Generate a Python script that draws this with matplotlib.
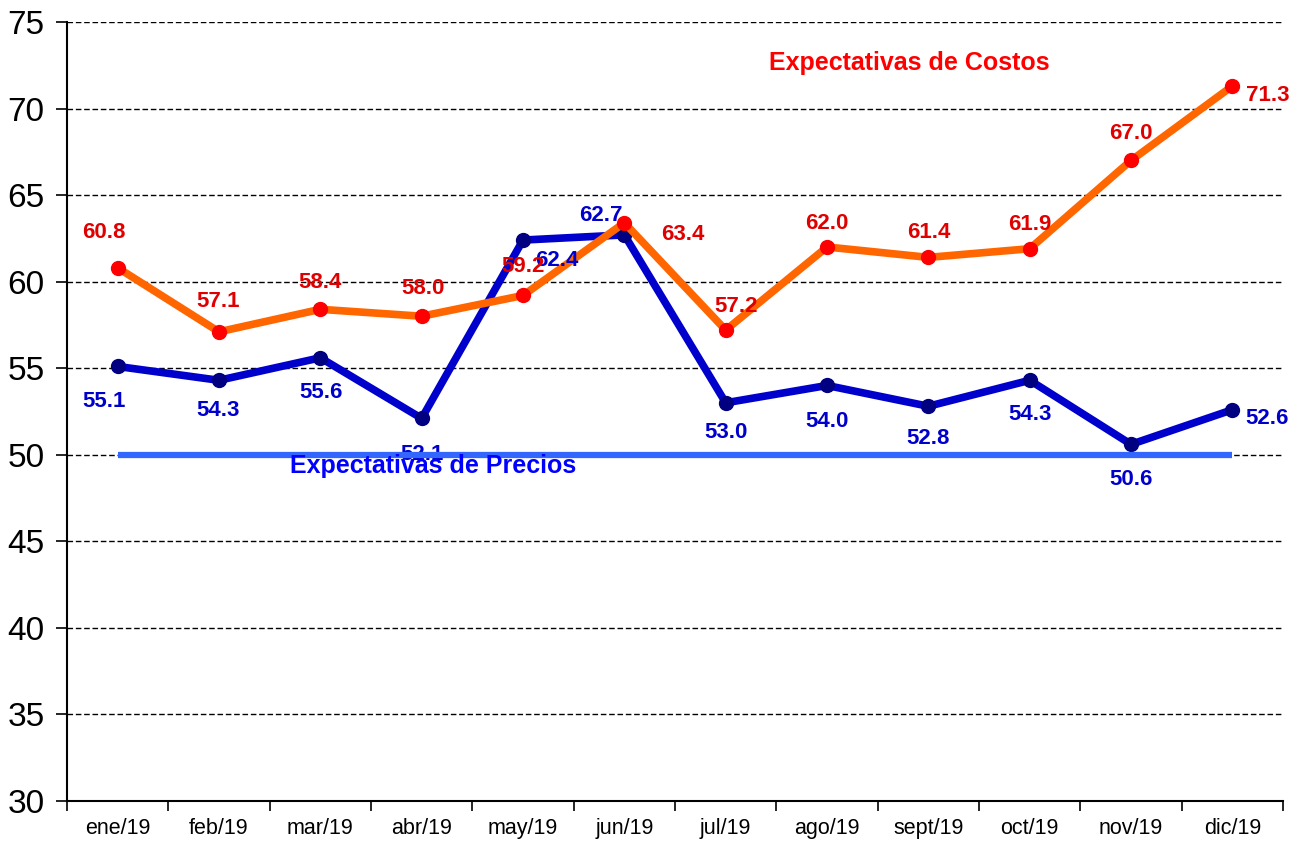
import numpy as np
import matplotlib.pyplot as plt

plt.rcParams['font.family'] = ['Liberation Sans', 'DejaVu Sans']

meses = ['ene/19', 'feb/19', 'mar/19', 'abr/19', 'may/19', 'jun/19',
         'jul/19', 'ago/19', 'sept/19', 'oct/19', 'nov/19', 'dic/19']
costos = [60.8, 57.1, 58.4, 58.0, 59.2, 63.4, 57.2, 62.0, 61.4, 61.9, 67.0, 71.3]
precios = [55.1, 54.3, 55.6, 52.1, 62.4, 62.7, 53.0, 54.0, 52.8, 54.3, 50.6, 52.6]
referencia = 50

# label offsets in pixels (dx, dy) from each point
off_costos = [(-14, 35), (-1, 30), (0, 27), (1, 28), (0, 29), (58, -12),
              (10, 24), (0, 23), (0, 25), (0, 24), (0, 27), (35, -10)]
off_precios = [(-14, -35), (-1, -30), (1, -35), (0, -36), (34, -20), (-23, 19),
               (0, -30), (0, -36), (0, -32), (0, -34), (0, -35), (35, -9)]

x = np.arange(len(meses))

fig = plt.figure(figsize=(13, 8.44), dpi=100)
ax = fig.add_axes([0.0515, 0.051, 0.9355, 0.923])

# linea de referencia en 50
ax.plot([x[0], x[-1]], [referencia, referencia], color='#3366FF', lw=4.5, zorder=6,
        solid_capstyle='butt')

ax.plot(x, precios, color='#0000CC', lw=5.5, marker='o', ms=10,
        mfc='#000080', mec='#000080', zorder=3)
ax.plot(x, costos, color='#FF6600', lw=5.5, marker='o', ms=10,
        mfc='#FF0000', mec='#FF0000', zorder=4)

for i in range(len(x)):
    ax.annotate(f'{costos[i]:.1f}', (x[i], costos[i]), xytext=off_costos[i],
                textcoords='offset pixels', ha='center', va='center',
                color='#E00000', fontsize=16, fontweight='bold', zorder=7)
    ax.annotate(f'{precios[i]:.1f}', (x[i], precios[i]), xytext=off_precios[i],
                textcoords='offset pixels', ha='center', va='center',
                color='#0000CC', fontsize=16, fontweight='bold', zorder=5)

ax.text(7.81, 72.63, 'Expectativas de Costos', color='#FF0000', fontsize=18,
        fontweight='bold', ha='center', va='center')
ax.text(3.11, 49.35, 'Expectativas de Precios', color='#0000FF', fontsize=18,
        fontweight='bold', ha='center', va='center', zorder=7)

ax.set_xlim(-0.5, 11.5)
ax.set_ylim(30, 75)
ax.set_yticks(np.arange(30, 76, 5))
ax.set_xticks(x)
ax.set_xticklabels(meses)
ax.set_xticks(np.arange(-0.5, 12, 1), minor=True)
ax.tick_params(axis='x', which='major', length=0, labelsize=15.5, pad=12)
ax.tick_params(axis='x', which='minor', length=7, width=1.2, direction='out')
ax.tick_params(axis='y', length=8, width=1.2, direction='out', labelsize=24, pad=8)

for s in ['top', 'right']:
    ax.spines[s].set_visible(False)
for s in ['left', 'bottom']:
    ax.spines[s].set_linewidth(1.5)

ax.yaxis.grid(True, linestyle=(0, (4, 2)), color='black', lw=1)
ax.set_axisbelow(True)

fig.savefig('out.png', dpi=100)
